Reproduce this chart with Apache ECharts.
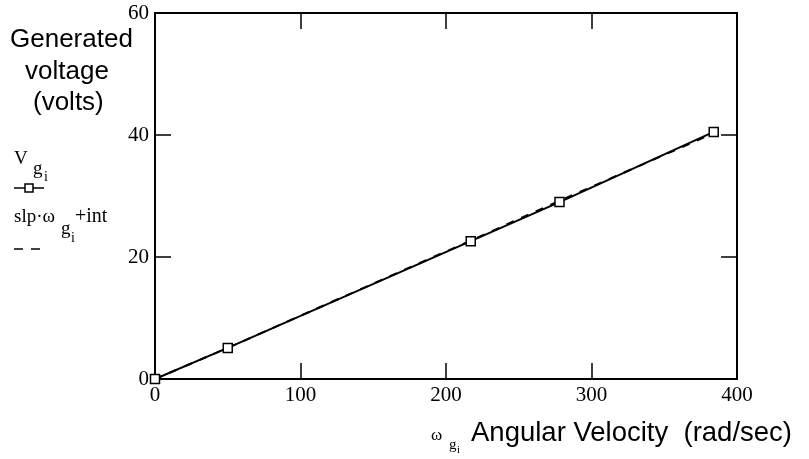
<!DOCTYPE html>
<html>
<head>
<meta charset="utf-8">
<script src="https://cdn.jsdelivr.net/npm/echarts@6/dist/echarts.min.js"></script>
<style>
  html, body { margin: 0; padding: 0; background: #fff; }
  #main { width: 809px; height: 459px; }
</style>
</head>
<body>
<div id="main"></div>
<script>
// measured points (angular velocity, generated voltage)
var omega = [0, 50, 217, 278, 384];
var volts = [0, 5.1, 22.6, 29.0, 40.5];
// fitted line slp*omega+int, read at the same omegas
var fitVolts = [0, 5.1, 22.7, 29.2, 40.3];
var xTicks = [0, 100, 200, 300, 400];
var yTicks = [0, 20, 40, 60];

var serif = '"Liberation Serif", "DejaVu Serif", serif';
var sans = '"Liberation Sans", Arial, sans-serif';

var myChart = echarts.init(document.getElementById('main'));

function pairs(xs, ys) {
    return xs.map(function (x, i) { return [x, ys[i]]; });
}

var tickStyle = { show: true, inside: true, length: 16, lineStyle: { color: '#000', width: 1.5 } };
var lineStyle = { show: true, onZero: false, lineStyle: { color: '#000', width: 2 } };

var option = {
    animation: false,
    backgroundColor: '#fff',
    grid: { left: 155, right: 72, top: 13, bottom: 80 },
    xAxis: [
        {
            type: 'value', position: 'bottom',
            min: xTicks[0], max: xTicks[xTicks.length - 1], interval: 100,
            axisLine: lineStyle, axisTick: tickStyle,
            axisLabel: { color: '#000', fontFamily: serif, fontSize: 21, margin: 6 },
            splitLine: { show: false }
        },
        {
            type: 'value', position: 'top',
            min: xTicks[0], max: xTicks[xTicks.length - 1], interval: 100,
            axisLine: lineStyle, axisTick: tickStyle,
            axisLabel: { show: false }, splitLine: { show: false }
        }
    ],
    yAxis: [
        {
            type: 'value', position: 'left',
            min: yTicks[0], max: yTicks[yTicks.length - 1], interval: 20,
            axisLine: lineStyle, axisTick: tickStyle,
            axisLabel: { color: '#000', fontFamily: serif, fontSize: 21, margin: 6 },
            splitLine: { show: false }
        },
        {
            type: 'value', position: 'right',
            min: yTicks[0], max: yTicks[yTicks.length - 1], interval: 20,
            axisLine: lineStyle, axisTick: tickStyle,
            axisLabel: { show: false }, splitLine: { show: false }
        }
    ],
    series: [
        {
            name: 'fit', type: 'line',
            data: pairs(omega, fitVolts),
            symbol: 'none',
            lineStyle: { color: '#000', width: 2, type: [8, 8] },
            z: 2
        },
        {
            name: 'V', type: 'line',
            data: pairs(omega, volts),
            symbol: 'rect', symbolSize: 9,
            itemStyle: { color: '#fff', borderColor: '#000', borderWidth: 1.5 },
            lineStyle: { color: '#000', width: 2 },
            z: 3
        }
    ],
    graphic: [
        // y axis title
        { type: 'text', left: 10, top: 27, style: { text: 'Generated', font: '26px ' + sans, fill: '#000' } },
        { type: 'text', left: 25, top: 59, style: { text: 'voltage', font: '26px ' + sans, fill: '#000' } },
        { type: 'text', left: 33, top: 90, style: { text: '(volts)', font: '26px ' + sans, fill: '#000' } },
        // legend entry 1
        { type: 'text', left: 14, top: 150, style: { text: 'V', font: '19px ' + serif, fill: '#000' } },
        { type: 'text', left: 33, top: 160, style: { text: 'g', font: '19px ' + serif, fill: '#000' } },
        { type: 'text', left: 44, top: 170, style: { text: 'i', font: '14px ' + serif, fill: '#000' } },
        { type: 'line', shape: { x1: 14, y1: 188, x2: 44, y2: 188 }, style: { stroke: '#000', lineWidth: 1.5 } },
        { type: 'rect', shape: { x: 25, y: 184, width: 8, height: 8 }, style: { fill: '#fff', stroke: '#000', lineWidth: 1.5 } },
        // legend entry 2
        { type: 'text', left: 14, top: 208, style: { text: 'slp\u00b7\u03c9', font: '19px ' + serif, fill: '#000' } },
        { type: 'text', left: 61, top: 220, style: { text: 'g', font: '19px ' + serif, fill: '#000' } },
        { type: 'text', left: 71, top: 231, style: { text: 'i', font: '14px ' + serif, fill: '#000' } },
        { type: 'text', left: 75, top: 207, style: { text: '+int', font: '20px ' + serif, fill: '#000' } },
        { type: 'line', shape: { x1: 14, y1: 249, x2: 23, y2: 249 }, style: { stroke: '#000', lineWidth: 1.5 } },
        { type: 'line', shape: { x1: 31, y1: 249, x2: 40, y2: 249 }, style: { stroke: '#000', lineWidth: 1.5 } },
        // x axis title
        { type: 'text', left: 431, top: 427, style: { text: '\u03c9', font: '17px ' + serif, fill: '#000' } },
        { type: 'text', left: 449, top: 438, style: { text: 'g', font: '15px ' + serif, fill: '#000' } },
        { type: 'text', left: 457, top: 445, style: { text: 'i', font: '11px ' + serif, fill: '#000' } },
        { type: 'text', left: 471, top: 419, style: { text: 'Angular Velocity  (rad/sec)', font: '27.5px ' + sans, fill: '#000' } }
    ]
};

myChart.setOption(option);
</script>
</body>
</html>
